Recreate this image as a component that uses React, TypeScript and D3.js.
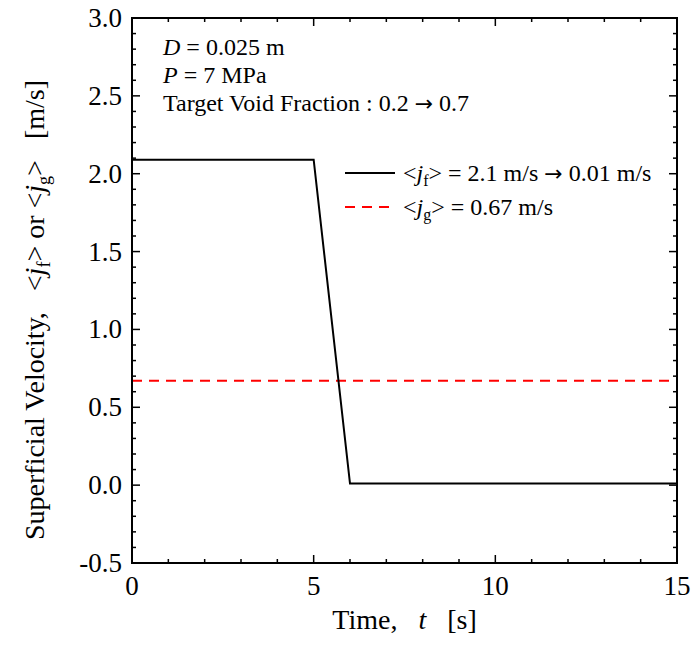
import React from "react";
import * as d3 from "d3";

const liquidTime = [0, 5, 6, 15];
const liquidVel = [2.09, 2.09, 0.01, 0.01];
const gasTime = [0, 15];
const gasVel = [0.67, 0.67];
const xMajorTicks = [0, 5, 10, 15];
const yMajorTicks = [-0.5, 0.0, 0.5, 1.0, 1.5, 2.0, 2.5, 3.0];

const W = 695;
const H = 658;
const L = 132, R = 677, T = 18, B = 563;
const FONT = "'Liberation Serif', 'Times New Roman', serif";
const ARROW_FONT = "'DejaVu Sans', sans-serif";

export default function App() {
  const x = d3.scaleLinear().domain([0, 15]).range([L, R]);
  const y = d3.scaleLinear().domain([-0.5, 3.0]).range([B, T]);
  const xMinor = d3.range(0, 16, 1);
  const yMinor = d3.range(-5, 31, 1).map((v) => v / 10);
  const line = d3
    .line<[number, number]>()
    .x((d) => x(d[0]))
    .y((d) => y(d[1]));
  const liquid = liquidTime.map((t, i) => [t, liquidVel[i]] as [number, number]);
  const gas = gasTime.map((t, i) => [t, gasVel[i]] as [number, number]);
  const isMajorX = (v: number) => xMajorTicks.includes(v);
  const isMajorY = (v: number) => Math.abs(Math.round(v * 10) % 5) === 0;

  return (
    <svg
      width={W}
      height={H}
      style={{ position: "fixed", left: 0, top: 0, background: "#fff" }}
      fontFamily={FONT}
    >
      <rect x={0} y={0} width={W} height={H} fill="#fff" />
      <defs>
        <clipPath id="plot">
          <rect x={L} y={T} width={R - L} height={B - T} />
        </clipPath>
      </defs>
      {/* ticks */}
      {xMinor.map((v) => {
        const len = isMajorX(v) ? 8 : 4;
        return (
          <g key={"xt" + v} stroke="#000" strokeWidth={1.5}>
            <line x1={x(v)} x2={x(v)} y1={B} y2={B - len} />
            <line x1={x(v)} x2={x(v)} y1={T} y2={T + len} />
          </g>
        );
      })}
      {yMinor.map((v) => {
        const len = isMajorY(v) ? 8 : 4;
        return (
          <g key={"yt" + v} stroke="#000" strokeWidth={1.5}>
            <line x1={L} x2={L + len} y1={y(v)} y2={y(v)} />
            <line x1={R} x2={R - len} y1={y(v)} y2={y(v)} />
          </g>
        );
      })}
      {/* data */}
      <g clipPath="url(#plot)">
        <path d={line(gas) || ""} fill="none" stroke="#ff0000" strokeWidth={2} strokeDasharray="10,7" />
        <path d={line(liquid) || ""} fill="none" stroke="#000" strokeWidth={2} />
      </g>
      <rect x={L} y={T} width={R - L} height={B - T} fill="none" stroke="#000" strokeWidth={2} />
      {/* tick labels */}
      {xMajorTicks.map((v) => (
        <text key={"xl" + v} x={x(v)} y={B + 32} textAnchor="middle" fontSize={27}>
          {v}
        </text>
      ))}
      {yMajorTicks.map((v) => (
        <text key={"yl" + v} x={L - 10} y={y(v) + 9} textAnchor="end" fontSize={27}>
          {v.toFixed(1)}
        </text>
      ))}
      {/* axis labels */}
      <text x={(L + R) / 2} y={629} textAnchor="middle" fontSize={28}>
        Time,{"\u00a0\u00a0\u00a0"}
        <tspan fontStyle="italic">t</tspan>
        {"\u00a0\u00a0\u00a0[s]"}
      </text>
      <text transform={`translate(44, 310) rotate(-90)`} textAnchor="middle" fontSize={28}>
        Superficial Velocity,{"\u00a0\u00a0\u00a0"}&lt;
        <tspan fontStyle="italic">j</tspan>
        <tspan fontSize={18} dy={6}>f</tspan>
        <tspan dy={-6}>&gt; or &lt;</tspan>
        <tspan fontStyle="italic">j</tspan>
        <tspan fontSize={18} dy={6}>g</tspan>
        <tspan dy={-6}>&gt;{"\u00a0\u00a0\u00a0[m/s]"}</tspan>
      </text>
      {/* annotations */}
      <text x={163} y={55} fontSize={24}>
        <tspan fontStyle="italic">D</tspan> = 0.025 m
      </text>
      <text x={163} y={83} fontSize={24}>
        <tspan fontStyle="italic">P</tspan> = 7 MPa
      </text>
      <text x={163} y={111} fontSize={24}>
        Target Void Fraction : 0.2 <tspan fontFamily={ARROW_FONT} fontSize={22}>{"\u2192"}</tspan> 0.7
      </text>
      {/* legend */}
      <line x1={345} x2={395} y1={173} y2={173} stroke="#000" strokeWidth={2} />
      <text x={403} y={181} fontSize={24}>
        &lt;<tspan fontStyle="italic">j</tspan>
        <tspan fontSize={16} dy={5}>f</tspan>
        <tspan dy={-5}>&gt; = 2.1 m/s </tspan>
        <tspan fontFamily={ARROW_FONT} fontSize={22}>{"\u2192"}</tspan>
        <tspan> 0.01 m/s</tspan>
      </text>
      <line x1={345} x2={395} y1={207} y2={207} stroke="#ff0000" strokeWidth={2} strokeDasharray="10,7" />
      <text x={403} y={215} fontSize={24}>
        &lt;<tspan fontStyle="italic">j</tspan>
        <tspan fontSize={16} dy={5}>g</tspan>
        <tspan dy={-5}>&gt; = 0.67 m/s</tspan>
      </text>
    </svg>
  );
}
